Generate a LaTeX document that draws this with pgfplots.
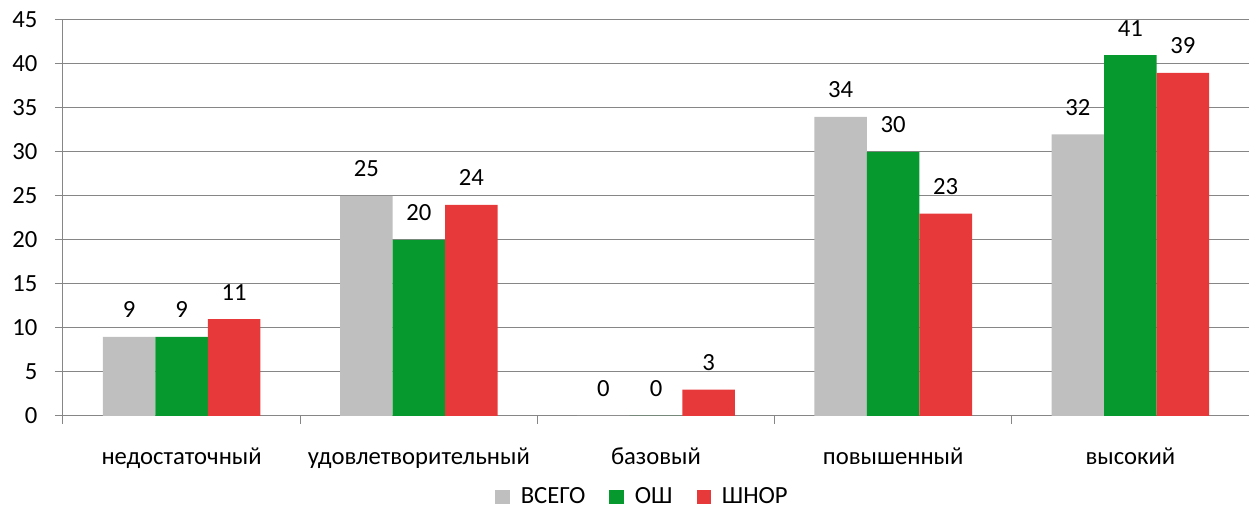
\documentclass[border=0pt]{standalone}
\usepackage{pgfplots}
\pgfplotsset{compat=1.18}
\usepackage{fontspec}
\setmainfont{Carlito}

\definecolor{grayvs}{RGB}{191,191,191}
\definecolor{greenosh}{RGB}{6,154,46}
\definecolor{redshnor}{RGB}{232,57,58}
\definecolor{gridgray}{RGB}{134,134,134}

\begin{document}
\begin{tikzpicture}
\useasboundingbox (-47.25pt,-72.75pt) rectangle (889.5pt,312pt);
\begin{axis}[
at={(0pt,0pt)}, anchor=south west,
scale only axis,
width=889.5pt, height=297pt,
ybar=0pt,
bar width=39.4pt,
xmin=-0.5, xmax=4.5,
ymin=0, ymax=45,
ytick={0,5,...,45},
xtick={0,1,2,3,4},
xticklabels={недостаточный,удовлетворительный,базовый,повышенный,высокий},
minor xtick={-0.5,0.5,...,4.5},
major x tick style={draw=none},
minor tick length=6pt,
major tick length=6pt,
tick align=outside,
tick pos=left,
axis x line*=bottom,
axis y line*=left,
axis line style={gridgray, line width=0.75pt},
tick style={gridgray, line width=0.75pt},
ymajorgrids,
y grid style={gridgray, line width=0.75pt},
font=\fontsize{18.5pt}{22pt}\selectfont,
/pgf/number format/assume math mode=true,
yticklabel style={anchor=east, inner sep=0pt, xshift=-13pt},
xticklabel style={anchor=base, inner sep=0pt, yshift=-30.75pt},
nodes near coords,
every node near coord/.append style={anchor=south, inner sep=0pt, yshift=14pt, black, font=\fontsize{18.5pt}{22pt}\selectfont},
legend style={at={(0.489,-0.2045)}, anchor=center, draw=none, fill=none,
  legend columns=3, font=\fontsize{18.5pt}{22pt}\selectfont,
  /tikz/every odd column/.append style={column sep=6pt},
  /tikz/every even column/.append style={column sep=16pt}},
legend image code/.code={\fill[#1] (0pt,-5.5pt) rectangle (11pt,5.5pt);},
]
\addplot[fill=grayvs, draw=none] coordinates {(0,9) (1,25) (2,0) (3,34) (4,32)};
\addplot[fill=greenosh, draw=none] coordinates {(0,9) (1,20) (2,0) (3,30) (4,41)};
\addplot[fill=redshnor, draw=none] coordinates {(0,11) (1,24) (2,3) (3,23) (4,39)};
\legend{ВСЕГО,ОШ,ШНОР}
\end{axis}
\end{tikzpicture}
\end{document}
